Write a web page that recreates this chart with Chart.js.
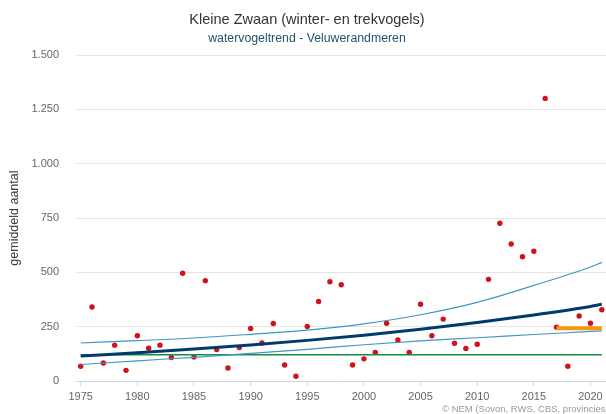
<!DOCTYPE html>
<html><head><meta charset="utf-8">
<script src="https://cdn.jsdelivr.net/npm/chart.js@4.4.1/dist/chart.umd.min.js"></script>
<style>html,body{margin:0;padding:0;background:#fff}</style>
</head><body>
<canvas id="c" width="606" height="414"></canvas>
<script>
// ---- data ----
const years = [1975,1976,1977,1978,1979,1980,1981,1982,1983,1984,1985,1986,1987,1988,1989,1990,1991,1992,1993,1994,1995,1996,1997,1998,1999,2000,2001,2002,2003,2004,2005,2006,2007,2008,2009,2010,2011,2012,2013,2014,2015,2016,2017,2018,2019,2020,2021];
const counts = [68,341,83,165,49,208,151,165,108,496,111,462,145,60,154,242,175,265,74,22,251,366,457,443,74,102,131,266,189,131,353,208,285,174,150,169,468,726,631,572,597,1301,248,68,299,266,328];

const curveYears = [1975,1980,1985,1990,1995,2000,2005,2010,2015,2020,2021];
const trendValues = [115,130,147,166,187,211,238,269,304,343,353];
const upperValues = [175,186,198,215,234,263,305,362,440,525,546];
const lowerValues = [76,93,109,127,146,167,185,199,214,228,231];

const baselineYears = [1975,2021];
const baselineValues = [121,121];
const recentYears = [2017,2021];
const recentValues = [243,243];

const xTicks = [1975,1980,1985,1990,1995,2000,2005,2010,2015,2020];
const yTicks = [0,250,500,750,1000,1250,1500];

// ---- chart ----
Chart.defaults.font.family = "'Liberation Sans', Arial, Helvetica, sans-serif";
const pts = (xs, ys) => xs.map((x, i) => ({x: x, y: ys[i]}));
const fmt = v => String(v).replace(/\B(?=(\d{3})+(?!\d))/g, '.');

const lineDs = (label, xs, ys, color, width) => ({
  type: 'line', label, data: pts(xs, ys), borderColor: color, borderWidth: width,
  pointRadius: 0, fill: false, cubicInterpolationMode: 'monotone', borderCapStyle: 'butt'
});

const credits = {
  id: 'credits',
  afterDraw(chart) {
    const ctx = chart.ctx;
    ctx.save();
    ctx.font = "9.5px 'Liberation Sans', Arial, sans-serif";
    ctx.fillStyle = '#999999';
    ctx.textAlign = 'left';
    ctx.textBaseline = 'middle';
    ctx.fillText('\u00A9 NEM (Sovon, RWS, CBS, provincies)', 442, 409);
    ctx.restore();
  }
};

const LEFT_PAD = 8;

new Chart(document.getElementById('c'), {
  type: 'scatter',
  data: {
    datasets: [
      lineDs('recent', recentYears, recentValues, '#f39a12', 4),
      lineDs('trend', curveYears, trendValues, '#003a70', 3),
      lineDs('upper', curveYears, upperValues, '#4096c4', 1.2),
      lineDs('lower', curveYears, lowerValues, '#4096c4', 1.2),
      lineDs('baseline', baselineYears, baselineValues, '#12903f', 1.5),
      {
        type: 'scatter', label: 'aantal', data: pts(years, counts),
        pointRadius: 2.7, pointBackgroundColor: '#d0121b', pointBorderWidth: 0, showLine: false
      }
    ]
  },
  options: {
    responsive: false,
    animation: false,
    devicePixelRatio: 1,
    layout: {autoPadding: false, padding: {left: LEFT_PAD, right: 0, top: 0, bottom: 0}},
    plugins: {
      legend: {display: false},
      tooltip: {enabled: false},
      title: {display: true, text: 'Kleine Zwaan (winter- en trekvogels)', color: '#333333',
              font: {size: 14.5, weight: 'normal'}, padding: {top: 11.5, bottom: 0}},
      subtitle: {display: true, text: 'watervogeltrend - Veluwerandmeren', color: '#22576b',
                 font: {size: 12.3, weight: 'normal'}, padding: {top: 2.5, bottom: 9}}
    },
    scales: {
      x: {
        type: 'linear', min: 1974.585, max: 2021.37,
        afterBuildTicks: s => { s.ticks = xTicks.map(v => ({value: v})); },
        afterFit: s => { s.height = 33; },
        grid: {display: true, drawOnChartArea: false, drawTicks: true, tickLength: 5, color: '#ccd6eb'},
        border: {display: true, color: '#ccd6eb'},
        ticks: {color: '#666666', font: {size: 11, lineHeight: 1.927}, padding: 0, maxRotation: 0,
                autoSkip: false, callback: v => String(v)}
      },
      y: {
        min: 0, max: 1500,
        afterBuildTicks: s => { s.ticks = yTicks.map(v => ({value: v})); },
        afterFit: s => { s.width = 76 - LEFT_PAD; },
        grid: {color: '#e6e6e6', drawTicks: false},
        border: {display: false},
        ticks: {color: '#666666', font: {size: 11}, padding: 17, callback: v => fmt(v)},
        title: {display: true, text: 'gemiddeld aantal', color: '#3a3a3a',
                font: {size: 12.5, lineHeight: 1}, padding: {top: 0, bottom: 0}}
      }
    }
  },
  plugins: [credits]
});
</script>
</body></html>
